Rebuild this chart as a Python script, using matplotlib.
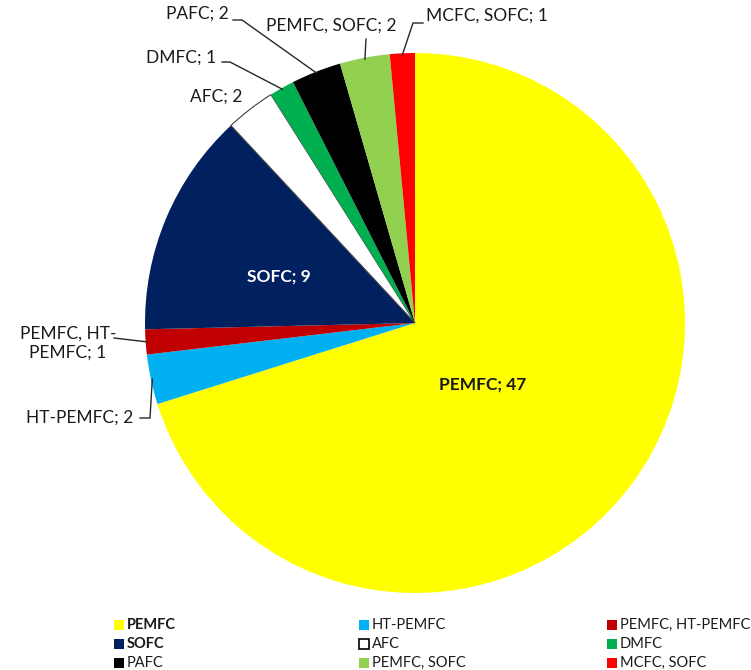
import matplotlib
matplotlib.use("Agg")
import matplotlib.pyplot as plt
from matplotlib.patches import Rectangle
import numpy as np

categories = ["PEMFC", "HT-PEMFC", "PEMFC, HT-PEMFC", "SOFC", "AFC", "DMFC",
              "PAFC", "PEMFC, SOFC", "MCFC, SOFC"]
values = [47, 2, 1, 9, 2, 1, 2, 2, 1]
colors = ["#FFFF00", "#00B0F0", "#C00000", "#002060", "#FFFFFF", "#00B050",
          "#000000", "#92D050", "#FF0000"]
bold_labels = ["PEMFC", "SOFC"]

W, H = 751, 670
plt.rcParams['font.family'] = ['Lato', 'DejaVu Sans']
fig = plt.figure(figsize=(W / 100, H / 100), dpi=100)

cx, cy, R = 415, 323, 270
ax = fig.add_axes([(cx - R) / W, (H - cy - R) / H, 2 * R / W, 2 * R / H])
wedges, _ = ax.pie(values, colors=colors, startangle=90, counterclock=False,
                   radius=1.0, wedgeprops=dict(linewidth=0))
ax.set_xlim(-1, 1)
ax.set_ylim(-1, 1)
ax.set_aspect('equal')
ax.axis('off')

# outline the white AFC slice
wedges[4].set_edgecolor('#404040')
wedges[4].set_linewidth(0.8)

def px(x, y):
    return ((x - cx) / R, (cy - y) / R)

total = sum(values)
cum = np.cumsum([0] + values)
def anchor(i):
    mid = (cum[i] + cum[i + 1]) / 2
    ang = np.deg2rad(90 - 360 * mid / total)
    return (np.cos(ang) * 0.995, np.sin(ang) * 0.995)

tc = '#1a1a1a'
fs = 12.5
# label text: (index, text, px x, px y, ha, bold, color)
labels = [
    (0, "PEMFC; 47", 483, 385, 'center', True, tc),
    (3, "SOFC; 9", 279, 277, 'center', True, 'white'),
    (2, "PEMFC, HT-\nPEMFC; 1", 68, 343, 'center', False, tc),
    (1, "HT-PEMFC; 2", 133, 418, 'right', False, tc),
    (4, "AFC; 2", 242, 97, 'right', False, tc),
    (5, "DMFC; 1", 216, 58, 'right', False, tc),
    (6, "PAFC; 2", 229, 14, 'right', False, tc),
    (7, "PEMFC, SOFC; 2", 331, 26, 'center', False, tc),
    (8, "MCFC, SOFC; 1", 426, 16, 'left', False, tc),
]
for i, t, x, y, ha, b, c in labels:
    ax.text(*px(x, y), t, ha=ha, va='center', fontsize=fs,
            fontweight='bold' if b else 'normal', color=c,
            multialignment='center', linespacing=1.25)

# leader lines: list of pixel elbow points, ending at slice anchor
leaders = {
    2: [(114, 338)],
    1: [(140, 418), (150, 418)],
    5: [(222, 62), (230, 62)],
    6: [(233, 20), (242, 20)],
    7: [(366, 39)],
    8: [(423, 23), (413, 23)],
}
for i, pts in leaders.items():
    xs = [px(*p)[0] for p in pts] + [anchor(i)[0]]
    ys = [px(*p)[1] for p in pts] + [anchor(i)[1]]
    ax.plot(xs, ys, color='#262626', lw=1.0, clip_on=False,
            solid_joinstyle='miter')

# legend (manual 3-column grid, row-major order)
col_x = [114, 359, 607]
row_y = [625, 644, 663]
sq = 10
for k, (name, col) in enumerate(zip(categories, colors)):
    r, c = divmod(k, 3)
    x0, y0 = col_x[c], row_y[r]
    fig.add_artist(Rectangle((x0 / W, (H - y0 - sq / 2) / H), sq / W, sq / H,
                             facecolor=col,
                             edgecolor='#000000' if name == "AFC" else col,
                             linewidth=1.2 if name == "AFC" else 0,
                             transform=fig.transFigure))
    fig.text((x0 + sq + 3) / W, (H - y0) / H, name, ha='left', va='center',
             fontsize=10.5, color=tc,
             fontweight='bold' if name in bold_labels else 'normal')

fig.savefig("out.png", dpi=100)
